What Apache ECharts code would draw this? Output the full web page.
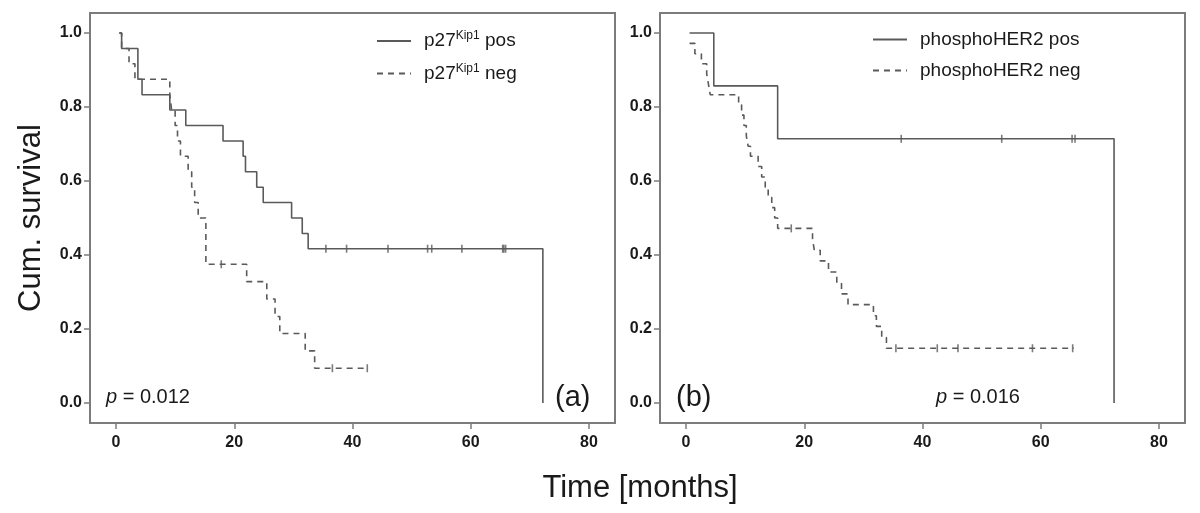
<!DOCTYPE html>
<html>
<head>
<meta charset="utf-8">
<script src="https://cdn.jsdelivr.net/npm/echarts@6/dist/echarts.min.js"></script>
<style>
  html, body { margin: 0; background: #fff; }
  #chart { width: 1200px; height: 513px; }
</style>
</head>
<body>
<div id="chart"></div>
<script>
// tick labels
const xTicks = [0, 20, 40, 60, 80];
const yTicks = [0, 0.2, 0.4, 0.6, 0.8, 1.0];

// (a) p27Kip1 pos - step points (time, cum. survival)
const aPosT = [0.55, 0.95, 3.7, 4.4, 9.1, 11.8, 18.1, 21.5, 21.9, 23.8, 24.9, 29.7, 31.5, 32.5, 72.2];
const aPosS = [1.0, 0.958, 0.875, 0.833, 0.792, 0.75, 0.708, 0.667, 0.625, 0.583, 0.542, 0.5, 0.458, 0.417, 0.0];
const aPosCensT = [35.5, 39.0, 46.0, 52.7, 53.4, 58.5, 65.4, 65.6, 65.9];
const aPosCensS = [0.417, 0.417, 0.417, 0.417, 0.417, 0.417, 0.417, 0.417, 0.417];

// (a) p27Kip1 neg
const aNegT = [0.55, 0.95, 2.2, 3.2, 9.1, 9.4, 10.0, 10.4, 10.9, 12.2, 12.8, 13.3, 13.9, 15.2, 22.1, 25.5, 26.9, 27.7, 32.0, 33.6, 42.5];
const aNegS = [1.0, 0.958, 0.917, 0.875, 0.833, 0.792, 0.75, 0.708, 0.667, 0.625, 0.583, 0.542, 0.5, 0.375, 0.328, 0.281, 0.234, 0.188, 0.141, 0.094, 0.094];
const aNegCensT = [17.8, 36.6, 42.5];
const aNegCensS = [0.375, 0.094, 0.094];

// (b) phosphoHER2 pos
const bPosT = [0.6, 4.7, 15.5, 72.4];
const bPosS = [1.0, 0.857, 0.714, 0.0];
const bPosCensT = [36.4, 53.4, 65.3, 65.8];
const bPosCensS = [0.714, 0.714, 0.714, 0.714];

// (b) phosphoHER2 neg
const bNegT = [0.6, 1.5, 2.6, 3.5, 3.8, 4.1, 8.9, 9.4, 9.8, 10.2, 10.5, 10.9, 12.2, 12.8, 13.4, 13.9, 14.5, 15.0, 15.5, 21.4, 21.7, 22.7, 24.1, 25.5, 26.3, 27.4, 31.7, 32.2, 33.1, 33.9, 65.6];
const bNegS = [0.972, 0.944, 0.917, 0.889, 0.861, 0.833, 0.806, 0.778, 0.75, 0.722, 0.694, 0.667, 0.639, 0.611, 0.583, 0.556, 0.528, 0.5, 0.472, 0.443, 0.413, 0.384, 0.354, 0.325, 0.295, 0.266, 0.236, 0.207, 0.177, 0.148, 0.148];
const bNegCensT = [17.8, 35.5, 42.5, 46.0, 58.6, 65.4];
const bNegCensS = [0.472, 0.148, 0.148, 0.148, 0.148, 0.148];

const FONT = '"Liberation Sans", Arial, sans-serif';
const LINE = '#5a5a5a';
const FRAME = '#7c7c7c';
const TEXT = '#1a1a1a';

const pts = (t, s) => t.map((v, i) => [v, s[i]]);

const chart = echarts.init(document.getElementById('chart'));

const xAxisFor = (i) => ({
  type: 'value',
  gridIndex: i,
  min: -4.4,
  max: 84.4,
  axisLine: {show: true, onZero: false, lineStyle: {color: FRAME, width: 2}},
  axisTick: {show: true, length: 6, customValues: xTicks, lineStyle: {color: FRAME, width: 1.5}},
  axisLabel: {customValues: xTicks, fontSize: 16, fontWeight: 'bold', color: TEXT, fontFamily: FONT, margin: 12},
  splitLine: {show: false}
});

const yAxisFor = (i) => ({
  type: 'value',
  gridIndex: i,
  min: -0.054,
  max: 1.054,
  axisLine: {show: true, onZero: false, lineStyle: {color: FRAME, width: 2}},
  axisTick: {show: true, length: 6, customValues: yTicks, lineStyle: {color: FRAME, width: 1.5}},
  axisLabel: {
    customValues: yTicks,
    formatter: v => v.toFixed(1),
    fontSize: 16, fontWeight: 'bold', color: TEXT, fontFamily: FONT, margin: 8
  },
  splitLine: {show: false}
});

const stepLine = (name, i, data, dashed) => ({
  name: name,
  type: 'line',
  xAxisIndex: i,
  yAxisIndex: i,
  step: 'end',
  symbol: 'none',
  data: data,
  lineStyle: {color: LINE, width: 1.6, type: dashed ? [6, 5] : 'solid'},
  itemStyle: {color: LINE},
  z: dashed ? 2 : 3,
  silent: true
});

const censor = (i, data) => ({
  type: 'scatter',
  xAxisIndex: i,
  yAxisIndex: i,
  symbol: 'rect',
  symbolSize: [1.6, 8],
  itemStyle: {color: LINE},
  data: data,
  z: 4,
  silent: true
});

const legendRich = {
  g: {width: 8},
  t: {fontSize: 19, color: TEXT, fontFamily: FONT},
  s: {fontSize: 12, color: TEXT, fontFamily: FONT, padding: [0, 0, 10, 0]}
};

const legendBase = {
  orient: 'vertical',
  top: 25,
  itemWidth: 34,
  itemHeight: 14,
  itemGap: 12,
  selectedMode: false,
  itemStyle: {opacity: 0},
  lineStyle: {width: 2}
};

chart.setOption({
  animation: false,
  backgroundColor: '#fff',
  grid: [
    {left: 90, top: 13, width: 525, height: 410, show: true, borderColor: FRAME, borderWidth: 2},
    {left: 660, top: 13, width: 525, height: 410, show: true, borderColor: FRAME, borderWidth: 2}
  ],
  xAxis: [xAxisFor(0), xAxisFor(1)],
  yAxis: [
    Object.assign(yAxisFor(0), {
      name: 'Cum. survival',
      nameLocation: 'middle',
      nameGap: 43,
      nameTextStyle: {fontSize: 31, color: TEXT, fontFamily: FONT}
    }),
    yAxisFor(1)
  ],
  legend: [
    Object.assign({}, legendBase, {
      data: ['p27Kip1 pos', 'p27Kip1 neg'],
      left: 371,
      formatter: name => '{g|}{t|p27}{s|Kip1}{t|' + (name.endsWith('pos') ? ' pos' : ' neg') + '}',
      textStyle: {rich: legendRich}
    }),
    Object.assign({}, legendBase, {
      data: ['phosphoHER2 pos', 'phosphoHER2 neg'],
      left: 867,
      formatter: name => '{g|}{t|' + name + '}',
      textStyle: {rich: legendRich}
    })
  ],
  graphic: [
    {
      type: 'text', x: 106, y: 397,
      style: {
        text: '{i|p} = 0.012', verticalAlign: 'middle', fill: TEXT,
        font: '20px ' + FONT,
        rich: {i: {fontStyle: 'italic', fontSize: 20, fontFamily: FONT}}
      }
    },
    {
      type: 'text', x: 555, y: 398,
      style: {text: '(a)', verticalAlign: 'middle', fill: TEXT, font: '29px ' + FONT}
    },
    {
      type: 'text', x: 676, y: 398,
      style: {text: '(b)', verticalAlign: 'middle', fill: TEXT, font: '29px ' + FONT}
    },
    {
      type: 'text', x: 936, y: 397,
      style: {
        text: '{i|p} = 0.016', verticalAlign: 'middle', fill: TEXT,
        font: '20px ' + FONT,
        rich: {i: {fontStyle: 'italic', fontSize: 20, fontFamily: FONT}}
      }
    },
    {
      type: 'text', x: 640, y: 488,
      style: {text: 'Time [months]', align: 'center', verticalAlign: 'middle', fill: TEXT, font: '31px ' + FONT}
    }
  ],
  series: [
    stepLine('p27Kip1 pos', 0, pts(aPosT, aPosS), false),
    stepLine('p27Kip1 neg', 0, pts(aNegT, aNegS), true),
    censor(0, pts(aPosCensT, aPosCensS)),
    censor(0, pts(aNegCensT, aNegCensS)),
    stepLine('phosphoHER2 pos', 1, pts(bPosT, bPosS), false),
    stepLine('phosphoHER2 neg', 1, pts(bNegT, bNegS), true),
    censor(1, pts(bPosCensT, bPosCensS)),
    censor(1, pts(bNegCensT, bNegCensS))
  ]
});
</script>
</body>
</html>
